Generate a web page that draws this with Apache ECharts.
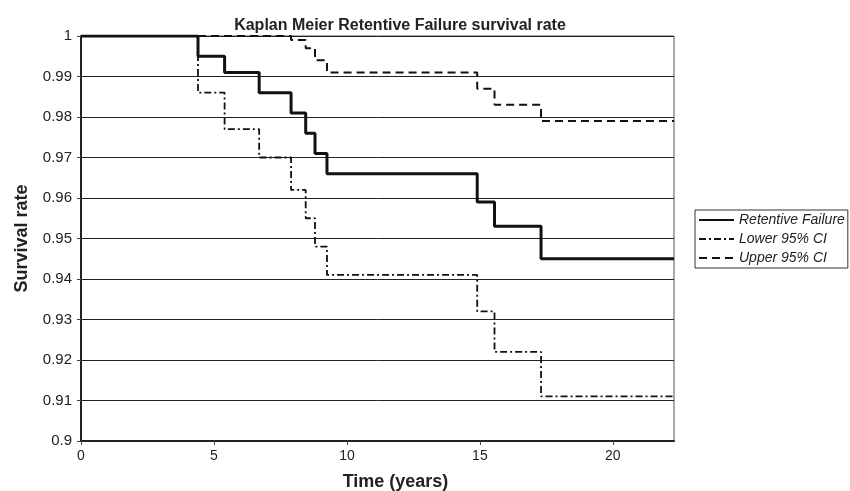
<!DOCTYPE html>
<html>
<head>
<meta charset="utf-8">
<script src="https://cdn.jsdelivr.net/npm/echarts@6/dist/echarts.min.js"></script>
<style>
  html, body { margin: 0; padding: 0; background: #fff; }
  #chart { width: 850px; height: 491px; }
</style>
</head>
<body>
<div id="chart"></div>
<script>
// step times (years) where the curves drop
const times = [0, 4.4, 5.4, 6.7, 7.9, 8.45, 8.8, 9.25, 14.9, 15.55, 17.3, 22.3]
const survival = [1, 0.995, 0.991, 0.986, 0.981, 0.976, 0.971, 0.966, 0.959, 0.953, 0.945, 0.945]
const lowerCI = [1, 0.986, 0.977, 0.970, 0.962, 0.955, 0.948, 0.941, 0.932, 0.922, 0.911, 0.911]
const upperCI = [1, 1, 1, 1, 0.999, 0.997, 0.994, 0.991, 0.987, 0.983, 0.979, 0.979]

const seriesNames = ['Retentive Failure', 'Lower 95% CI', 'Upper 95% CI']

function pairs(ys) {
  return times.map((t, i) => [t, ys[i]])
}

const chart = echarts.init(document.getElementById('chart'))
const font = '"Liberation Sans", Arial, sans-serif'

chart.setOption({
  animation: false,
  textStyle: { fontFamily: font },
  title: {
    text: 'Kaplan Meier Retentive Failure survival rate',
    left: 395,
    top: 13,
    textAlign: 'center',
    textStyle: { fontSize: 16, fontWeight: 'bold', color: '#222', fontFamily: font }
  },
  grid: {
    left: 81,
    top: 36,
    right: 176,
    bottom: 50,
    containLabel: false,
    outerBoundsMode: 'none',
    show: true,
    borderColor: '#555',
    borderWidth: 1
  },
  legend: {
    data: seriesNames,
    orient: 'vertical',
    left: 695,
    top: 210,
    itemWidth: 35,
    itemHeight: 10,
    itemGap: 5,
    padding: [3, 3, 3, 3],
    borderColor: '#333',
    borderWidth: 1,
    itemStyle: { opacity: 0 },
    textStyle: { fontSize: 14, fontStyle: 'italic', color: '#222', fontFamily: font }
  },
  xAxis: {
    type: 'value',
    min: 0,
    max: 22.3,
    interval: 5,
    name: 'Time (years)',
    nameLocation: 'middle',
    nameGap: 32,
    nameTextStyle: { fontSize: 18, fontWeight: 'bold', color: '#222', padding: [0, 0, 0, 36] },
    axisLine: { lineStyle: { color: '#222', width: 2 } },
    axisTick: { show: true, length: 4, lineStyle: { color: '#444' } },
    axisLabel: { fontSize: 14, color: '#222', showMaxLabel: false, margin: 8 },
    splitLine: { show: false }
  },
  yAxis: {
    type: 'value',
    min: 0.9,
    max: 1,
    interval: 0.01,
    name: 'Survival rate',
    nameLocation: 'middle',
    nameGap: 50,
    nameTextStyle: { fontSize: 18, fontWeight: 'bold', color: '#222' },
    axisLine: { show: true, lineStyle: { color: '#222', width: 2 } },
    axisTick: { show: true, length: 4, lineStyle: { color: '#444' } },
    axisLabel: {
      fontSize: 15,
      color: '#222',
      margin: 9,
      formatter: v => String(+v.toFixed(2))
    },
    splitLine: { show: true, lineStyle: { color: '#222', width: 1 } }
  },
  series: [
    {
      name: seriesNames[0],
      type: 'line',
      step: 'end',
      symbol: 'none',
      data: pairs(survival),
      lineStyle: { color: '#111', width: 3, type: 'solid' },
      itemStyle: { color: '#111' },
      z: 5
    },
    {
      name: seriesNames[1],
      type: 'line',
      step: 'end',
      symbol: 'none',
      data: pairs(lowerCI),
      lineStyle: { color: '#111', width: 1.8, type: [7, 3, 2, 3] },
      itemStyle: { color: '#111' },
      z: 4
    },
    {
      name: seriesNames[2],
      type: 'line',
      step: 'end',
      symbol: 'none',
      data: pairs(upperCI),
      lineStyle: { color: '#111', width: 2, type: [8, 5] },
      itemStyle: { color: '#111' },
      z: 4
    }
  ]
})
</script>
</body>
</html>
